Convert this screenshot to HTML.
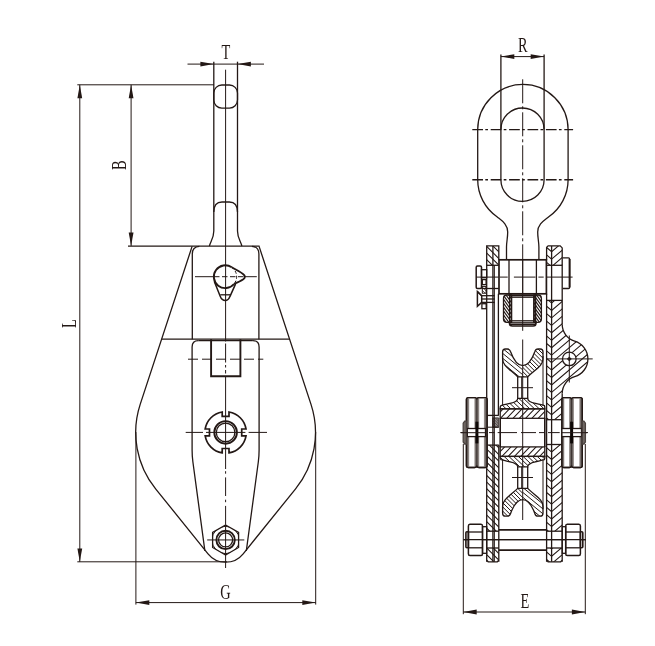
<!DOCTYPE html>
<html><head><meta charset="utf-8"><title>Snatch block drawing</title>
<style>
html,body{margin:0;padding:0;background:#fff;}
svg{display:block;font-family:"Liberation Serif",serif;}
svg{will-change:transform;transform:translateZ(0);}
</style></head><body>
<svg width="655" height="646" viewBox="0 0 655 646">
<defs>
<clipPath id="cL"><rect x="480" y="330" width="42.7" height="200"/></clipPath>
<clipPath id="cR"><rect x="522.7" y="330" width="42.7" height="200"/></clipPath>
<clipPath id="h1"><path d="M486.7,245.9 h12.100000000000023 v19.4 h-12.100000000000023 Z" clip-rule="nonzero"/></clipPath>
<clipPath id="h2"><path d="M486.7,445.1 h12.100000000000023 v86.1 h-12.100000000000023 Z" clip-rule="nonzero"/></clipPath>
<clipPath id="h3"><path d="M486.7,548 h12.100000000000023 v13.8 h-12.100000000000023 Z" clip-rule="nonzero"/></clipPath>
<clipPath id="h4"><path d="M492.8,417.9 h5.5 v9.3 h-5.5 Z" clip-rule="nonzero"/></clipPath>
<clipPath id="h5"><path d="M546.6,245.9 h5.0 v19.4 h-5.0 Z" clip-rule="nonzero"/></clipPath>
<clipPath id="h6"><path d="M551.6,245.9 L560.2,245.9 L562.2,248 L562.2,265.3 L551.6,265.3 Z" clip-rule="nonzero"/></clipPath>
<clipPath id="h7"><path d="M546.6,300.4 h5.0 v119.3 h-5.0 Z" clip-rule="nonzero"/></clipPath>
<clipPath id="h8"><path d="M546.6,444.5 h5.0 v86.7 h-5.0 Z" clip-rule="nonzero"/></clipPath>
<clipPath id="h9"><path d="M546.6,548 h5.0 v13.8 h-5.0 Z" clip-rule="nonzero"/></clipPath>
<clipPath id="h10"><path d="M551.6,300.4 L562.2,300.4 L562.2,324.33 A17.5,17.5 0 0 0 574.66,341.09 A18.6,18.6 0 0 1 574.66,376.71 A17.5,17.5 0 0 0 562.2,393.47 L562.2,419.7 L551.6,419.7 Z M576.0999999999999,358.9 A6.8,6.8 0 1 0 562.5,358.9 A6.8,6.8 0 1 0 576.0999999999999,358.9 Z" clip-rule="evenodd"/></clipPath>
<clipPath id="h11"><path d="M551.6,444.5 h10.600000000000023 v86.7 h-10.600000000000023 Z" clip-rule="nonzero"/></clipPath>
<clipPath id="h12"><path d="M551.6,548 h10.600000000000023 v13.8 h-10.600000000000023 Z" clip-rule="nonzero"/></clipPath>
<clipPath id="h13"><path d="M482.3,286.4 h3.8 v6.8 h-3.8 Z" clip-rule="nonzero"/></clipPath>
<clipPath id="h14"><path d="M503.5,298.5 Q503.5,295 507,295 L511.4,295 L511.4,322.4 L507,322.4 Q503.5,322.4 503.5,319 Z" clip-rule="nonzero"/></clipPath>
<clipPath id="h15"><path d="M541.4,298.5 Q541.4,295 537.9,295 L534.0,295 L534.0,322.4 L537.9,322.4 Q541.4,322.4 541.4,319 Z" clip-rule="nonzero"/></clipPath>
<clipPath id="h16"><path d="M502.6,352 Q502.6,349 505.4,349 L507.4,349 Q509.8,349 510.5,351.5 C512.5,357 517,365.6 522.7,365.6 C528.4,365.6 532.9,357 534.9,351.5 Q535.6,349 538,349 L540.2,349 Q543,349 543,352 L543,359 C543,366 535,369.5 527.7,376.8 L517.7,376.8 C510.4,369.5 502.6,366 502.6,359 Z" clip-rule="nonzero"/></clipPath>
<clipPath id="h17"><path d="M502.6,352 Q502.6,349 505.4,349 L507.4,349 Q509.8,349 510.5,351.5 C512.5,357 517,365.6 522.7,365.6 C528.4,365.6 532.9,357 534.9,351.5 Q535.6,349 538,349 L540.2,349 Q543,349 543,352 L543,359 C543,366 535,369.5 527.7,376.8 L517.7,376.8 C510.4,369.5 502.6,366 502.6,359 Z" clip-rule="nonzero"/></clipPath>
<clipPath id="h18"><path d="M517.7,398.4 C517.7,400.6 515,402.3 510.1,403.4 C507,404.1 503,405 501,405.6 L500.2,407 L500.2,408.8 L544.8,408.8 L544.8,407 L544.4,405.6 C542.4,405 538.4,404.1 535.3,403.4 C530.4,402.3 527.7,400.6 527.7,398.4 Z" clip-rule="nonzero"/></clipPath>
<clipPath id="h19"><path d="M500.2,408.8 h44.6 v9.5 h-44.6 Z" clip-rule="nonzero"/></clipPath>
<clipPath id="h20"><path d="M502.6,513.2 Q502.6,516.2 505.4,516.2 L507.4,516.2 Q509.8,516.2 510.5,513.7 C512.5,508.2 517,499.6 522.7,499.6 C528.4,499.6 532.9,508.2 534.9,513.7 Q535.6,516.2 538,516.2 L540.2,516.2 Q543,516.2 543,513.2 L543,506.2 C543,499.2 535,495.7 527.7,488.4 L517.7,488.4 C510.4,495.7 502.6,499.2 502.6,506.2 Z" clip-rule="nonzero"/></clipPath>
<clipPath id="h21"><path d="M502.6,513.2 Q502.6,516.2 505.4,516.2 L507.4,516.2 Q509.8,516.2 510.5,513.7 C512.5,508.2 517,499.6 522.7,499.6 C528.4,499.6 532.9,508.2 534.9,513.7 Q535.6,516.2 538,516.2 L540.2,516.2 Q543,516.2 543,513.2 L543,506.2 C543,499.2 535,495.7 527.7,488.4 L517.7,488.4 C510.4,495.7 502.6,499.2 502.6,506.2 Z" clip-rule="nonzero"/></clipPath>
<clipPath id="h22"><path d="M517.7,466.8 C517.7,464.6 515,462.9 510.1,461.8 C507,461.1 503,460.2 501,459.6 L500.2,458.2 L500.2,456.4 L544.8,456.4 L544.8,458.2 L544.4,459.6 C542.4,460.2 538.4,461.1 535.3,461.8 C530.4,462.9 527.7,464.6 527.7,466.8 Z" clip-rule="nonzero"/></clipPath>
<clipPath id="h23"><path d="M500.2,446.9 h44.6 v9.5 h-44.6 Z" clip-rule="nonzero"/></clipPath>
<linearGradient id="gL" x1="0" x2="1" y1="0" y2="0"><stop offset="0" stop-color="#3e3633"/><stop offset="1" stop-color="#a39c99"/></linearGradient>
<linearGradient id="gR" x1="0" x2="1" y1="0" y2="0"><stop offset="0" stop-color="#a39c99"/><stop offset="1" stop-color="#3e3633"/></linearGradient>
<linearGradient id="gM" x1="0" x2="1" y1="0" y2="0"><stop offset="0" stop-color="#b0aaa7"/><stop offset="0.5" stop-color="#3e3633"/><stop offset="1" stop-color="#b0aaa7"/></linearGradient>
</defs>
<rect width="655" height="646" fill="#fff"/>
<line x1="225.6" y1="69.7" x2="225.6" y2="341.5" stroke="#231815" stroke-width="1.0" />
<line x1="225.6" y1="343.5" x2="225.6" y2="373.5" stroke="#231815" stroke-width="1.0" stroke-dasharray="19 2.5 2.5 2.5 6 10" />
<line x1="225.6" y1="377" x2="225.6" y2="469" stroke="#231815" stroke-width="1.0" />
<line x1="225.6" y1="471.2" x2="225.6" y2="524.5" stroke="#231815" stroke-width="1.0" stroke-dasharray="2.5 3.7 18.6 3.7" />
<line x1="225.6" y1="524.5" x2="225.6" y2="568" stroke="#231815" stroke-width="1.0" />
<line x1="187.5" y1="64.1" x2="264" y2="64.1" stroke="#231815" stroke-width="1.0" />
<polygon points="213.8,64.1 200.4,66.5 200.4,61.699999999999996" fill="#231815"/>
<polygon points="237.5,64.1 250.9,61.699999999999996 250.9,66.5" fill="#231815"/>
<text transform="translate(225.8,59.3) scale(0.72,1)" font-size="20" text-anchor="middle" fill="#231815">T</text>
<line x1="213.8" y1="61.7" x2="213.8" y2="231" stroke="#231815" stroke-width="1.3" />
<line x1="237.5" y1="61.7" x2="237.5" y2="231" stroke="#231815" stroke-width="1.3" />
<rect x="213.8" y="85" width="23.7" height="23.1" rx="8" stroke="#231815" stroke-width="1.3" fill="none"/>
<path d="M213.8,212 C213.8,205 217,202 222,202 L229.3,202 C234.3,202 237.5,205 237.5,212" stroke="#231815" stroke-width="1.3" fill="none" />
<path d="M213.8,231 C213.8,238 210.8,241 209.4,246" stroke="#231815" stroke-width="1.3" fill="none" />
<path d="M237.5,231 C237.5,238 240.5,241 241.9,246" stroke="#231815" stroke-width="1.3" fill="none" />
<line x1="77.3" y1="84.8" x2="214" y2="84.8" stroke="#231815" stroke-width="1.0" />
<line x1="79.8" y1="84.8" x2="79.8" y2="561.8" stroke="#231815" stroke-width="1.0" />
<polygon points="79.8,84.8 82.2,98.2 77.39999999999999,98.2" fill="#231815"/>
<polygon points="79.8,561.8 77.39999999999999,548.4 82.2,548.4" fill="#231815"/>
<line x1="77.3" y1="561.8" x2="227" y2="561.8" stroke="#231815" stroke-width="1.0" />
<text transform="translate(75.6,323.5) rotate(-90) scale(0.72,1)" font-size="20" text-anchor="middle" fill="#231815">L</text>
<line x1="131.1" y1="84.8" x2="131.1" y2="245.9" stroke="#231815" stroke-width="1.0" />
<polygon points="131.1,84.8 133.5,98.2 128.7,98.2" fill="#231815"/>
<polygon points="131.1,245.9 128.7,232.5 133.5,232.5" fill="#231815"/>
<line x1="128" y1="246.1" x2="259.6" y2="246.1" stroke="#231815" stroke-width="1.3" />
<text transform="translate(126.1,165.3) rotate(-90) scale(0.72,1)" font-size="20" text-anchor="middle" fill="#231815">B</text>
<line x1="135.9" y1="432" x2="135.9" y2="604.6" stroke="#231815" stroke-width="1.0" />
<line x1="315.7" y1="432" x2="315.7" y2="604.6" stroke="#231815" stroke-width="1.0" />
<line x1="135.9" y1="602.6" x2="315.7" y2="602.6" stroke="#231815" stroke-width="1.0" />
<polygon points="135.9,602.6 149.3,600.2 149.3,605.0" fill="#231815"/>
<polygon points="315.7,602.6 302.3,605.0 302.3,600.2" fill="#231815"/>
<text transform="translate(225.5,598.6) scale(0.72,1)" font-size="20" text-anchor="middle" fill="#231815">G</text>
<path d="M192.10,246.40 L140.19,404.33 A89.9,89.9 0 0 0 155.62,488.84 L208.01,553.79 A22.6,22.6 0 0 0 243.19,553.79 L295.58,488.84 A89.9,89.9 0 0 0 311.01,404.33 L259.10,246.40" stroke="#231815" stroke-width="1.3" fill="none" />
<line x1="161.6" y1="339.2" x2="289.6" y2="339.2" stroke="#231815" stroke-width="1.3" />
<path d="M192.3,339.2 L192.3,254 Q192.3,246.6 199.3,246.3 M251.9,246.3 Q258.9,246.6 258.9,254 L258.9,339.2" stroke="#231815" stroke-width="1.3" fill="none" />
<path d="M198.3,340.6 Q192.10000000000002,340.6 192.10000000000002,347 L192.10000000000002,450 Q192.10000000000002,456 192.9,462 L204.9,551" stroke="#231815" stroke-width="1.3" fill="none" />
<path d="M252.9,340.6 Q259.1,340.6 259.1,347 L259.1,450 Q259.1,456 258.3,462 L246.3,551" stroke="#231815" stroke-width="1.3" fill="none" />
<line x1="198.3" y1="340.6" x2="252.9" y2="340.6" stroke="#231815" stroke-width="1.3" />
<path d="M211.1,339.2 L211.1,376.2 L240.4,376.2 L240.4,339.2" stroke="#231815" stroke-width="1.9" fill="none" />
<line x1="188" y1="359.2" x2="263.3" y2="359.2" stroke="#231815" stroke-width="1.0" stroke-dasharray="10 4" />
<line x1="195" y1="276.7" x2="213.5" y2="276.7" stroke="#231815" stroke-width="1.0" />
<line x1="245" y1="276.7" x2="256.8" y2="276.7" stroke="#231815" stroke-width="1.0" />
<line x1="214" y1="276.7" x2="244" y2="276.7" stroke="#231815" stroke-width="1.0" stroke-dasharray="5.5 2.5" />
<path d="M234.0,284.0 A11.4,11.4 0 1 1 231.7,267.3" stroke="#231815" stroke-width="1.9" fill="none" />
<path d="M231.7,267.3 C236,269.5 241,272.5 243.3,274.3 Q244.9,275.6 244.9,276.8 Q244.9,278.4 243,279.6 C240.5,281.2 237.5,282.5 234.0,284.0" stroke="#231815" stroke-width="1.7999999999999998" fill="none" />
<path d="M214.3,281.5 L220.2,296.3 C221.3,299.2 223,300.6 225.3,300.6 C227.6,300.6 228.9,299.2 229.9,296.6 L235.6,283.9" stroke="#231815" stroke-width="1.5" fill="none" />
<line x1="220.3" y1="294.8" x2="230.7" y2="294.8" stroke="#231815" stroke-width="1.3" />
<path d="M231.7,267.3 A11.4,11.4 0 0 1 234.0,284.0" stroke="#231815" stroke-width="1.0" fill="none" stroke-dasharray="3 2"/>
<line x1="185.7" y1="432.4" x2="203" y2="432.4" stroke="#231815" stroke-width="1.0" />
<line x1="248.6" y1="432.4" x2="267" y2="432.4" stroke="#231815" stroke-width="1.0" />
<line x1="206" y1="432.4" x2="245.4" y2="432.4" stroke="#231815" stroke-width="1.0" />
<path d="M246.02,435.80 A20.7,20.7 0 0 1 229.00,452.82 L229.00,448.52 L222.20,448.52 L222.20,452.82 A20.7,20.7 0 0 1 205.18,435.80 L209.48,435.80 L209.48,429.00 L205.18,429.00 A20.7,20.7 0 0 1 222.20,411.98 L222.20,416.28 L229.00,416.28 L229.00,411.98 A20.7,20.7 0 0 1 246.02,429.00 L241.72,429.00 L241.72,435.80 L246.02,435.80 Z" stroke="#231815" stroke-width="1.7" fill="none" />
<circle cx="225.6" cy="432.4" r="11.3" stroke="#231815" stroke-width="1.9" fill="none"/>
<circle cx="225.6" cy="432.4" r="9.3" stroke="#231815" stroke-width="1.3" fill="none"/>
<polygon points="225.60,524.95 238.59,532.45 238.59,547.45 225.60,554.95 212.61,547.45 212.61,532.45" fill="none" stroke="#231815" stroke-width="1.3"/>
<clipPath id="hexc"><polygon points="225.60,524.95 238.59,532.45 238.59,547.45 225.60,554.95 212.61,547.45 212.61,532.45"/></clipPath>
<circle cx="225.6" cy="539.95" r="13.7" stroke="#231815" stroke-width="1.0" fill="none" clip-path="url(#hexc)"/>
<circle cx="225.6" cy="539.95" r="9.2" stroke="#231815" stroke-width="1.9" fill="none"/>
<circle cx="225.6" cy="539.95" r="7.0" stroke="#231815" stroke-width="1.3" fill="none"/>
<line x1="207.2" y1="539.95" x2="244.3" y2="539.95" stroke="#231815" stroke-width="1.0" />
<line x1="500.9" y1="54.6" x2="500.9" y2="129.6" stroke="#231815" stroke-width="1.3" />
<line x1="544.1" y1="54.6" x2="544.1" y2="129.6" stroke="#231815" stroke-width="1.3" />
<line x1="500.9" y1="56.6" x2="544.1" y2="56.6" stroke="#231815" stroke-width="1.0" />
<polygon points="500.9,56.6 514.3,54.2 514.3,59.0" fill="#231815"/>
<polygon points="544.1,56.6 530.7,59.0 530.7,54.2" fill="#231815"/>
<text transform="translate(522.8,51.8) scale(0.72,1)" font-size="20" text-anchor="middle" fill="#231815">R</text>
<line x1="522.7" y1="79.3" x2="522.7" y2="259.8" stroke="#231815" stroke-width="1.0" stroke-dasharray="24 3 3 3" />
<line x1="522.7" y1="293.8" x2="522.7" y2="330.8" stroke="#231815" stroke-width="1.0" />
<line x1="522.7" y1="339.5" x2="522.7" y2="378" stroke="#231815" stroke-width="1.0" />
<line x1="472.3" y1="129.6" x2="573.1" y2="129.6" stroke="#231815" stroke-width="1.4000000000000001" stroke-dasharray="10.7 2.3 2.7 2.7" />
<line x1="472.3" y1="179.8" x2="573.1" y2="179.8" stroke="#231815" stroke-width="1.4000000000000001" stroke-dasharray="10.7 2.3 2.7 2.7" />
<path d="M500.9,129.6 A21.6,21.6 0 0 1 544.1,129.6 L544.1,179.8 A21.6,21.6 0 0 1 500.9,179.8 Z" stroke="#231815" stroke-width="1.3" fill="none" />
<path d="M506.5,259.8 L506.5,247 C506.6,241 507.7,238 507.7,232 C507.7,224 501.5,220.5 497.0,216.8 A45.2,45.2 0 0 1 477.7,179.8 L477.7,129.6 A45.2,45.2 0 0 1 568.1,129.6 L568.1,179.8 A45.2,45.2 0 0 1 548.8,216.8 C544.3,220.5 537.7,224 537.7,232 C537.7,238 538.8,241 538.9,247 L538.9,259.8" stroke="#231815" stroke-width="1.3" fill="none" />
<path d="M485.7,232.20L499.8,246.30M485.7,238.80L499.8,252.90M485.7,245.40L499.8,259.50M485.7,252.00L499.8,266.10M485.7,258.60L499.8,272.70M485.7,265.20L499.8,279.30" stroke="#231815" stroke-width="1.05" fill="none" clip-path="url(#h1)"/>
<path d="M485.7,434.80L499.8,448.90M485.7,441.40L499.8,455.50M485.7,448.00L499.8,462.10M485.7,454.60L499.8,468.70M485.7,461.20L499.8,475.30M485.7,467.80L499.8,481.90M485.7,474.40L499.8,488.50M485.7,481.00L499.8,495.10M485.7,487.60L499.8,501.70M485.7,494.20L499.8,508.30M485.7,500.80L499.8,514.90M485.7,507.40L499.8,521.50M485.7,514.00L499.8,528.10M485.7,520.60L499.8,534.70M485.7,527.20L499.8,541.30" stroke="#231815" stroke-width="1.05" fill="none" clip-path="url(#h2)"/>
<path d="M485.7,533.80L499.8,547.90M485.7,540.40L499.8,554.50M485.7,547.00L499.8,561.10M485.7,553.60L499.8,567.70M485.7,560.20L499.8,574.30" stroke="#231815" stroke-width="1.05" fill="none" clip-path="url(#h3)"/>
<path d="M486.7,561.8 L486.7,245.9 L498.8,245.9 L498.8,259.8" stroke="#231815" stroke-width="1.3" fill="none" />
<line x1="492.9" y1="245.9" x2="492.9" y2="561.8" stroke="#231815" stroke-width="1.3" />
<line x1="494.3" y1="265.3" x2="494.3" y2="561.8" stroke="#231815" stroke-width="1.1" />
<line x1="486.7" y1="265.3" x2="498.8" y2="265.3" stroke="#231815" stroke-width="1.3" />
<line x1="498.4" y1="293.8" x2="498.4" y2="415.4" stroke="#231815" stroke-width="1.3" />
<line x1="498.8" y1="445.1" x2="498.8" y2="561.8" stroke="#231815" stroke-width="1.3" />
<path d="M486.7,560.3 L488.2,561.8 L497.3,561.8 L498.8,560.3" stroke="#231815" stroke-width="1.3" fill="none" />
<line x1="486.7" y1="445.1" x2="498.8" y2="445.1" stroke="#231815" stroke-width="1.3" />
<line x1="486.7" y1="415.4" x2="498.8" y2="415.4" stroke="#231815" stroke-width="1.3" />
<path d="M491.8,410.20L499.3,417.70M491.8,411.80L499.3,419.30M491.8,413.40L499.3,420.90M491.8,415.00L499.3,422.50M491.8,416.60L499.3,424.10M491.8,418.20L499.3,425.70M491.8,419.80L499.3,427.30M491.8,421.40L499.3,428.90M491.8,423.00L499.3,430.50M491.8,424.60L499.3,432.10M491.8,426.20L499.3,433.70M491.8,427.80L499.3,435.30" stroke="#231815" stroke-width="0.6" fill="none" clip-path="url(#h4)"/>
<rect x="492.8" y="417.9" width="5.5" height="9.3" fill="#231815" fill-opacity="0.35"/>
<rect x="492.8" y="417.9" width="5.5" height="9.3" rx="0" stroke="#231815" stroke-width="0.8" fill="none"/>
<line x1="487.8" y1="427.2" x2="498.8" y2="427.2" stroke="#231815" stroke-width="1.0" />
<path d="M545.6,239.15L552.6,245.10M545.6,246.60L552.6,252.55M545.6,254.05L552.6,260.00M545.6,261.50L552.6,267.45" stroke="#231815" stroke-width="1.05" fill="none" clip-path="url(#h5)"/>
<path d="M550.6,245.10L563.2,234.39M550.6,252.55L563.2,241.84M550.6,260.00L563.2,249.29M550.6,267.45L563.2,256.74M550.6,274.90L563.2,264.19" stroke="#231815" stroke-width="1.05" fill="none" clip-path="url(#h6)"/>
<path d="M545.6,297.90L552.6,303.85M545.6,305.35L552.6,311.30M545.6,312.80L552.6,318.75M545.6,320.25L552.6,326.20M545.6,327.70L552.6,333.65M545.6,335.15L552.6,341.10M545.6,342.60L552.6,348.55M545.6,350.05L552.6,356.00M545.6,357.50L552.6,363.45M545.6,364.95L552.6,370.90M545.6,372.40L552.6,378.35M545.6,379.85L552.6,385.80M545.6,387.30L552.6,393.25M545.6,394.75L552.6,400.70M545.6,402.20L552.6,408.15M545.6,409.65L552.6,415.60M545.6,417.10L552.6,423.05" stroke="#231815" stroke-width="1.05" fill="none" clip-path="url(#h7)"/>
<path d="M545.6,439.45L552.6,445.40M545.6,446.90L552.6,452.85M545.6,454.35L552.6,460.30M545.6,461.80L552.6,467.75M545.6,469.25L552.6,475.20M545.6,476.70L552.6,482.65M545.6,484.15L552.6,490.10M545.6,491.60L552.6,497.55M545.6,499.05L552.6,505.00M545.6,506.50L552.6,512.45M545.6,513.95L552.6,519.90M545.6,521.40L552.6,527.35M545.6,528.85L552.6,534.80" stroke="#231815" stroke-width="1.05" fill="none" clip-path="url(#h8)"/>
<path d="M545.6,543.75L552.6,549.70M545.6,551.20L552.6,557.15M545.6,558.65L552.6,564.60" stroke="#231815" stroke-width="1.05" fill="none" clip-path="url(#h9)"/>
<path d="M543.7,302.26L594.3,259.29M543.7,309.71L594.3,266.74M543.7,317.16L594.3,274.19M543.7,324.61L594.3,281.64M543.7,332.06L594.3,289.09M543.7,339.51L594.3,296.54M543.7,346.96L594.3,303.99M543.7,354.41L594.3,311.44M543.7,361.86L594.3,318.89M543.7,369.31L594.3,326.34M543.7,376.76L594.3,333.79M543.7,384.21L594.3,341.24M543.7,391.66L594.3,348.69M543.7,399.11L594.3,356.14M543.7,406.56L594.3,363.59M543.7,414.01L594.3,371.04M543.7,421.46L594.3,378.49M543.7,428.91L594.3,385.94M543.7,436.36L594.3,393.39M543.7,443.81L594.3,400.84M543.7,451.26L594.3,408.29M543.7,458.71L594.3,415.74" stroke="#231815" stroke-width="1.05" fill="none" clip-path="url(#h10)"/>
<path d="M550.6,445.40L563.2,434.69M550.6,452.85L563.2,442.14M550.6,460.30L563.2,449.59M550.6,467.75L563.2,457.04M550.6,475.20L563.2,464.49M550.6,482.65L563.2,471.94M550.6,490.10L563.2,479.39M550.6,497.55L563.2,486.84M550.6,505.00L563.2,494.29M550.6,512.45L563.2,501.74M550.6,519.90L563.2,509.19M550.6,527.35L563.2,516.64M550.6,534.80L563.2,524.09M550.6,542.25L563.2,531.54" stroke="#231815" stroke-width="1.05" fill="none" clip-path="url(#h11)"/>
<path d="M550.6,549.70L563.2,538.99M550.6,557.15L563.2,546.44M550.6,564.60L563.2,553.89M550.6,572.05L563.2,561.34" stroke="#231815" stroke-width="1.05" fill="none" clip-path="url(#h12)"/>
<path d="M546.6,259.8 L546.6,247.4 L548.1,245.9 L560.2,245.9 L562.2,247.9 L562.2,324.33" stroke="#231815" stroke-width="1.3" fill="none" />
<path d="M562.2,324.33 A17.5,17.5 0 0 0 574.66,341.09 A18.6,18.6 0 0 1 574.66,376.71 A17.5,17.5 0 0 0 562.2,393.47" stroke="#231815" stroke-width="1.3" fill="none" />
<line x1="562.2" y1="393.47" x2="562.2" y2="561.8" stroke="#231815" stroke-width="1.3" />
<line x1="546.6" y1="293.8" x2="546.6" y2="561.8" stroke="#231815" stroke-width="1.3" />
<line x1="551.6" y1="245.9" x2="551.6" y2="561.8" stroke="#231815" stroke-width="1.3" />
<path d="M546.6,560.3 L548.1,561.8 L560.7,561.8 L562.2,560.3" stroke="#231815" stroke-width="1.3" fill="none" />
<line x1="546.6" y1="265.3" x2="562.2" y2="265.3" stroke="#231815" stroke-width="1.3" />
<line x1="546.6" y1="300.4" x2="562.2" y2="300.4" stroke="#231815" stroke-width="1.3" />
<line x1="546.6" y1="419.7" x2="562.2" y2="419.7" stroke="#231815" stroke-width="1.3" />
<line x1="546.6" y1="444.5" x2="562.2" y2="444.5" stroke="#231815" stroke-width="1.3" />
<circle cx="569.3" cy="358.9" r="6.8" stroke="#231815" stroke-width="1.3" fill="#fff"/>
<line x1="546" y1="358.9" x2="592.7" y2="358.9" stroke="#231815" stroke-width="1.0" />
<line x1="569.3" y1="335.5" x2="569.3" y2="382.5" stroke="#231815" stroke-width="1.0" />
<line x1="567.3" y1="358.9" x2="571.3" y2="358.9" stroke="#231815" stroke-width="1.9" />
<line x1="569.3" y1="356.9" x2="569.3" y2="360.9" stroke="#231815" stroke-width="1.9" />
<rect x="499" y="259.8" width="47.4" height="34" rx="0" stroke="#231815" stroke-width="1.7" fill="none"/>
<line x1="509" y1="259.8" x2="509" y2="293.8" stroke="#231815" stroke-width="1.3" />
<line x1="536.4" y1="259.8" x2="536.4" y2="293.8" stroke="#231815" stroke-width="1.3" />
<line x1="522.7" y1="259.8" x2="522.7" y2="293.8" stroke="#231815" stroke-width="1.3" />
<line x1="476" y1="277.1" x2="498.6" y2="277.1" stroke="#231815" stroke-width="1.0" />
<line x1="499.8" y1="277.1" x2="507.7" y2="277.1" stroke="#231815" stroke-width="1.0" />
<line x1="513.9" y1="277.1" x2="535.5" y2="277.1" stroke="#231815" stroke-width="1.0" />
<line x1="538.4" y1="277.1" x2="543.7" y2="277.1" stroke="#231815" stroke-width="1.0" />
<line x1="546.6" y1="277.1" x2="572.6" y2="277.1" stroke="#231815" stroke-width="1.0" />
<line x1="481.5" y1="288.5" x2="499" y2="288.5" stroke="#231815" stroke-width="1.3" />
<path d="M562.7,257.9 L568.5,257.9 Q569.6,257.9 569.6,259 L569.6,287.4 Q569.6,288.5 568.5,288.5 L562.7,288.5" stroke="#231815" stroke-width="1.3" fill="none" />
<line x1="569.6" y1="259" x2="569.6" y2="287.4" stroke="#231815" stroke-width="1.9" />
<rect x="476.2" y="266" width="5.3" height="22.4" rx="1.2" stroke="#231815" stroke-width="1.5" fill="none"/>
<rect x="481.5" y="269.7" width="5.2" height="8" rx="0" stroke="#231815" stroke-width="1.3" fill="none"/>
<rect x="482.3" y="279.6" width="3.8" height="5" rx="0" stroke="#231815" stroke-width="1.3" fill="none"/>
<path d="M481.3,279.70L487.1,285.50M481.3,282.90L487.1,288.70M481.3,286.10L487.1,291.90M481.3,289.30L487.1,295.10M481.3,292.50L487.1,298.30" stroke="#231815" stroke-width="0.7" fill="none" clip-path="url(#h13)"/>
<rect x="482.3" y="286.4" width="3.8" height="6.8" rx="0" stroke="#231815" stroke-width="1.0" fill="none"/>
<path d="M477.4,291.5 L477.4,306.2 L481.7,302.3 L481.7,295.7 Z" stroke="#231815" stroke-width="1.5" fill="none" />
<line x1="477.4" y1="291.5" x2="481.7" y2="295.7" stroke="#231815" stroke-width="1.3" />
<line x1="481.7" y1="295.7" x2="494.7" y2="295.7" stroke="#231815" stroke-width="1.3" />
<line x1="481.7" y1="299" x2="494.7" y2="299" stroke="#231815" stroke-width="1.3" />
<line x1="481.7" y1="302.4" x2="494.7" y2="302.4" stroke="#231815" stroke-width="1.3" />
<rect x="481.9" y="303.7" width="4.3" height="5" rx="0" stroke="#231815" stroke-width="1.3" fill="none"/>
<path d="M502.5,282.30L512.4,296.16M502.5,286.20L512.4,300.06M502.5,290.10L512.4,303.96M502.5,294.00L512.4,307.86M502.5,297.90L512.4,311.76M502.5,301.80L512.4,315.66M502.5,305.70L512.4,319.56M502.5,309.60L512.4,323.46M502.5,313.50L512.4,327.36M502.5,317.40L512.4,331.26M502.5,321.30L512.4,335.16" stroke="#231815" stroke-width="1.15" fill="none" clip-path="url(#h14)"/>
<path d="M533.0,282.10L542.4,295.26M533.0,286.00L542.4,299.16M533.0,289.90L542.4,303.06M533.0,293.80L542.4,306.96M533.0,297.70L542.4,310.86M533.0,301.60L542.4,314.76M533.0,305.50L542.4,318.66M533.0,309.40L542.4,322.56M533.0,313.30L542.4,326.46M533.0,317.20L542.4,330.36M533.0,321.10L542.4,334.26" stroke="#231815" stroke-width="1.15" fill="none" clip-path="url(#h15)"/>
<path d="M503.5,298.5 Q503.5,295 507,295 L511.4,295 L511.4,322.4 L507,322.4 Q503.5,322.4 503.5,319 Z" stroke="#231815" stroke-width="1.3" fill="none" />
<path d="M541.4,298.5 Q541.4,295 537.9,295 L534.0,295 L534.0,322.4 L537.9,322.4 Q541.4,322.4 541.4,319 Z" stroke="#231815" stroke-width="1.3" fill="none" />
<line x1="509.3" y1="295.3" x2="536.6" y2="295.3" stroke="#231815" stroke-width="1.9" />
<line x1="510.5" y1="297.2" x2="535" y2="297.2" stroke="#231815" stroke-width="1.3" />
<line x1="509.6" y1="293.8" x2="509.6" y2="324" stroke="#231815" stroke-width="1.3" />
<line x1="535.6" y1="293.8" x2="535.6" y2="324" stroke="#231815" stroke-width="1.3" />
<line x1="511.6" y1="295" x2="511.6" y2="322.4" stroke="#231815" stroke-width="1.3" />
<line x1="533.8" y1="295" x2="533.8" y2="322.4" stroke="#231815" stroke-width="1.3" />
<line x1="509.6" y1="320.8" x2="535.6" y2="320.8" stroke="#231815" stroke-width="1.3" />
<line x1="509.6" y1="322.8" x2="535.6" y2="322.8" stroke="#231815" stroke-width="1.3" />
<line x1="509.6" y1="324.4" x2="535.6" y2="324.4" stroke="#231815" stroke-width="1.3" />
<path d="M509.4,323 Q509.4,326.1 512.4,326.1 L533.2,326.1 Q536.0,326.1 536.0,323" stroke="#231815" stroke-width="1.5" fill="none" />
<g clip-path="url(#cL)"><path d="M501.6,313.31L544.0,348.08M501.6,318.21L544.0,352.98M501.6,323.11L544.0,357.88M501.6,328.01L544.0,362.78M501.6,332.91L544.0,367.68M501.6,337.81L544.0,372.58M501.6,342.71L544.0,377.48M501.6,347.61L544.0,382.38M501.6,352.51L544.0,387.28M501.6,357.41L544.0,392.18M501.6,362.31L544.0,397.08M501.6,367.21L544.0,401.98M501.6,372.11L544.0,406.88M501.6,377.01L544.0,411.78" stroke="#231815" stroke-width="1.0" fill="none" clip-path="url(#h16)"/></g>
<g clip-path="url(#cR)"><path d="M501.6,308.40L544.0,350.80M501.6,312.60L544.0,355.00M501.6,316.80L544.0,359.20M501.6,321.00L544.0,363.40M501.6,325.20L544.0,367.60M501.6,329.40L544.0,371.80M501.6,333.60L544.0,376.00M501.6,337.80L544.0,380.20M501.6,342.00L544.0,384.40M501.6,346.20L544.0,388.60M501.6,350.40L544.0,392.80M501.6,354.60L544.0,397.00M501.6,358.80L544.0,401.20M501.6,363.00L544.0,405.40M501.6,367.20L544.0,409.60M501.6,371.40L544.0,413.80M501.6,375.60L544.0,418.00" stroke="#231815" stroke-width="1.0" fill="none" clip-path="url(#h17)"/></g>
<path d="M502.6,352 Q502.6,349 505.4,349 L507.4,349 Q509.8,349 510.5,351.5 C512.5,357 517,365.6 522.7,365.6 C528.4,365.6 532.9,357 534.9,351.5 Q535.6,349 538,349 L540.2,349 Q543,349 543,352 L543,359 C543,366 535,369.5 527.7,376.8 L517.7,376.8 C510.4,369.5 502.6,366 502.6,359 Z" stroke="#231815" stroke-width="1.3" fill="none" />
<path d="M499.2,357.24L545.8,401.51M499.2,361.74L545.8,406.01M499.2,366.24L545.8,410.51M499.2,370.74L545.8,415.01M499.2,375.24L545.8,419.51M499.2,379.74L545.8,424.01M499.2,384.24L545.8,428.51M499.2,388.74L545.8,433.01M499.2,393.24L545.8,437.51M499.2,397.74L545.8,442.01M499.2,402.24L545.8,446.51M499.2,406.74L545.8,451.01" stroke="#231815" stroke-width="1.0" fill="none" clip-path="url(#h18)"/>
<path d="M517.7,398.4 C517.7,400.6 515,402.3 510.1,403.4 C507,404.1 503,405 501,405.6 L500.2,407 L500.2,408.8 L544.8,408.8 L544.8,407 L544.4,405.6 C542.4,405 538.4,404.1 535.3,403.4 C530.4,402.3 527.7,400.6 527.7,398.4 Z" stroke="#231815" stroke-width="1.3" fill="none" />
<path d="M499.2,413.04L545.8,364.11M499.2,419.64L545.8,370.71M499.2,426.24L545.8,377.31M499.2,432.84L545.8,383.91M499.2,439.44L545.8,390.51M499.2,446.04L545.8,397.11M499.2,452.64L545.8,403.71M499.2,459.24L545.8,410.31M499.2,465.84L545.8,416.91" stroke="#231815" stroke-width="1.05" fill="none" clip-path="url(#h19)"/>
<rect x="500.2" y="408.8" width="44.6" height="9.5" rx="0" stroke="#231815" stroke-width="1.3" fill="none"/>
<line x1="517.7" y1="376.8" x2="517.7" y2="398.4" stroke="#231815" stroke-width="1.3" />
<line x1="527.7" y1="376.8" x2="527.7" y2="398.4" stroke="#231815" stroke-width="1.3" />
<line x1="521.7" y1="376.8" x2="521.7" y2="398.4" stroke="#231815" stroke-width="1.0" />
<line x1="512" y1="387.7" x2="533" y2="387.7" stroke="#231815" stroke-width="1.0" />
<line x1="502.6" y1="356" x2="502.6" y2="405.8" stroke="#231815" stroke-width="1.0" />
<line x1="543" y1="356" x2="543" y2="405.8" stroke="#231815" stroke-width="1.0" />
<g clip-path="url(#cL)"><path d="M501.6,447.00L544.0,489.40M501.6,451.20L544.0,493.60M501.6,455.40L544.0,497.80M501.6,459.60L544.0,502.00M501.6,463.80L544.0,506.20M501.6,468.00L544.0,510.40M501.6,472.20L544.0,514.60M501.6,476.40L544.0,518.80M501.6,480.60L544.0,523.00M501.6,484.80L544.0,527.20M501.6,489.00L544.0,531.40M501.6,493.20L544.0,535.60M501.6,497.40L544.0,539.80M501.6,501.60L544.0,544.00M501.6,505.80L544.0,548.20M501.6,510.00L544.0,552.40M501.6,514.20L544.0,556.60" stroke="#231815" stroke-width="1.0" fill="none" clip-path="url(#h20)"/></g>
<g clip-path="url(#cR)"><path d="M501.6,455.41L544.0,490.18M501.6,460.31L544.0,495.08M501.6,465.21L544.0,499.98M501.6,470.11L544.0,504.88M501.6,475.01L544.0,509.78M501.6,479.91L544.0,514.68M501.6,484.81L544.0,519.58M501.6,489.71L544.0,524.48M501.6,494.61L544.0,529.38M501.6,499.51L544.0,534.28M501.6,504.41L544.0,539.18M501.6,509.31L544.0,544.08M501.6,514.21L544.0,548.98" stroke="#231815" stroke-width="1.0" fill="none" clip-path="url(#h21)"/></g>
<path d="M502.6,513.2 Q502.6,516.2 505.4,516.2 L507.4,516.2 Q509.8,516.2 510.5,513.7 C512.5,508.2 517,499.6 522.7,499.6 C528.4,499.6 532.9,508.2 534.9,513.7 Q535.6,516.2 538,516.2 L540.2,516.2 Q543,516.2 543,513.2 L543,506.2 C543,499.2 535,495.7 527.7,488.4 L517.7,488.4 C510.4,495.7 502.6,499.2 502.6,506.2 Z" stroke="#231815" stroke-width="1.3" fill="none" />
<path d="M499.2,411.24L545.8,455.51M499.2,415.74L545.8,460.01M499.2,420.24L545.8,464.51M499.2,424.74L545.8,469.01M499.2,429.24L545.8,473.51M499.2,433.74L545.8,478.01M499.2,438.24L545.8,482.51M499.2,442.74L545.8,487.01M499.2,447.24L545.8,491.51M499.2,451.74L545.8,496.01M499.2,456.24L545.8,500.51M499.2,460.74L545.8,505.01M499.2,465.24L545.8,509.51" stroke="#231815" stroke-width="1.0" fill="none" clip-path="url(#h22)"/>
<path d="M517.7,466.8 C517.7,464.6 515,462.9 510.1,461.8 C507,461.1 503,460.2 501,459.6 L500.2,458.2 L500.2,456.4 L544.8,456.4 L544.8,458.2 L544.4,459.6 C542.4,460.2 538.4,461.1 535.3,461.8 C530.4,462.9 527.7,464.6 527.7,466.8 Z" stroke="#231815" stroke-width="1.3" fill="none" />
<path d="M499.2,446.04L545.8,397.11M499.2,452.64L545.8,403.71M499.2,459.24L545.8,410.31M499.2,465.84L545.8,416.91M499.2,472.44L545.8,423.51M499.2,479.04L545.8,430.11M499.2,485.64L545.8,436.71M499.2,492.24L545.8,443.31M499.2,498.84L545.8,449.91M499.2,505.44L545.8,456.51" stroke="#231815" stroke-width="1.05" fill="none" clip-path="url(#h23)"/>
<rect x="500.2" y="446.9" width="44.6" height="9.5" rx="0" stroke="#231815" stroke-width="1.3" fill="none"/>
<line x1="517.7" y1="488.4" x2="517.7" y2="466.8" stroke="#231815" stroke-width="1.3" />
<line x1="527.7" y1="488.4" x2="527.7" y2="466.8" stroke="#231815" stroke-width="1.3" />
<line x1="521.7" y1="488.4" x2="521.7" y2="466.8" stroke="#231815" stroke-width="1.0" />
<line x1="512" y1="477.5" x2="533" y2="477.5" stroke="#231815" stroke-width="1.0" />
<line x1="502.6" y1="509.2" x2="502.6" y2="459.4" stroke="#231815" stroke-width="1.0" />
<line x1="543" y1="509.2" x2="543" y2="459.4" stroke="#231815" stroke-width="1.0" />
<line x1="522.7" y1="378" x2="522.7" y2="520" stroke="#231815" stroke-width="1.0" />
<line x1="500.2" y1="418.3" x2="500.2" y2="446.9" stroke="#231815" stroke-width="1.5999999999999999" />
<line x1="544.8" y1="418.3" x2="544.8" y2="446.9" stroke="#231815" stroke-width="1.5999999999999999" />
<line x1="460.3" y1="432.6" x2="487" y2="432.6" stroke="#231815" stroke-width="1.0" />
<line x1="489" y1="432.6" x2="494.5" y2="432.6" stroke="#231815" stroke-width="1.0" />
<line x1="497.7" y1="432.6" x2="517" y2="432.6" stroke="#231815" stroke-width="1.0" />
<line x1="521" y1="432.6" x2="536" y2="432.6" stroke="#231815" stroke-width="1.0" />
<line x1="539" y1="432.6" x2="544.7" y2="432.6" stroke="#231815" stroke-width="1.0" />
<line x1="548" y1="432.6" x2="559.7" y2="432.6" stroke="#231815" stroke-width="1.0" />
<line x1="561.9" y1="432.6" x2="588" y2="432.6" stroke="#231815" stroke-width="1.0" />
<path d="M466.4,465.5 L466.4,399.6 Q466.4,397.6 468.4,397.6 L474.40000000000003,397.6 Q476.8,397.6 476.8,399.6 Q476.8,397.6 479.2,397.6 L485.1,397.6 Q487.1,397.6 487.1,399.6 L487.1,465.5 Q487.1,467.5 485.1,467.5 L479.2,467.5 Q476.8,467.5 476.8,465.5 Q476.8,467.5 474.40000000000003,467.5 L468.4,467.5 Q466.4,467.5 466.4,465.5 Z" stroke="#231815" stroke-width="1.3" fill="#fff" />
<rect x="466.4" y="398.4" width="2.8" height="68.3" fill="url(#gL)"/>
<rect x="474.3" y="398.4" width="5.0" height="68.3" fill="url(#gM)"/>
<rect x="483.9" y="398.4" width="3.2" height="68.3" fill="url(#gR)"/>
<path d="M466.4,465.5 L466.4,399.6 Q466.4,397.6 468.4,397.6 L474.40000000000003,397.6 Q476.8,397.6 476.8,399.6 Q476.8,397.6 479.2,397.6 L485.1,397.6 Q487.1,397.6 487.1,399.6 L487.1,465.5 Q487.1,467.5 485.1,467.5 L479.2,467.5 Q476.8,467.5 476.8,465.5 Q476.8,467.5 474.40000000000003,467.5 L468.4,467.5 Q466.4,467.5 466.4,465.5 Z" stroke="#231815" stroke-width="1.3" fill="none" />
<rect x="467.3" y="428.5" width="18.2" height="8.1" rx="0" stroke="#231815" stroke-width="1.3" fill="#fff"/>
<line x1="476.90000000000003" y1="421.7" x2="476.90000000000003" y2="443.4" stroke="#0d0806" stroke-width="3.0" />
<line x1="467.3" y1="432.7" x2="485.5" y2="432.7" stroke="#231815" stroke-width="1.0" />
<path d="M561.9,465.5 L561.9,399.6 Q561.9,397.6 563.9,397.6 L569.1,397.6 Q571.5,397.6 571.5,399.6 Q571.5,397.6 573.9,397.6 L580.3,397.6 Q582.3,397.6 582.3,399.6 L582.3,465.5 Q582.3,467.5 580.3,467.5 L573.9,467.5 Q571.5,467.5 571.5,465.5 Q571.5,467.5 569.1,467.5 L563.9,467.5 Q561.9,467.5 561.9,465.5 Z" stroke="#231815" stroke-width="1.3" fill="#fff" />
<rect x="561.9" y="398.4" width="2.4" height="68.3" fill="url(#gL)"/>
<rect x="569.0" y="398.4" width="5.0" height="68.3" fill="url(#gM)"/>
<rect x="579.3" y="398.4" width="3.0" height="68.3" fill="url(#gR)"/>
<path d="M561.9,465.5 L561.9,399.6 Q561.9,397.6 563.9,397.6 L569.1,397.6 Q571.5,397.6 571.5,399.6 Q571.5,397.6 573.9,397.6 L580.3,397.6 Q582.3,397.6 582.3,399.6 L582.3,465.5 Q582.3,467.5 580.3,467.5 L573.9,467.5 Q571.5,467.5 571.5,465.5 Q571.5,467.5 569.1,467.5 L563.9,467.5 Q561.9,467.5 561.9,465.5 Z" stroke="#231815" stroke-width="1.3" fill="none" />
<rect x="561.9" y="428.5" width="19.6" height="8.1" rx="0" stroke="#231815" stroke-width="1.3" fill="#fff"/>
<line x1="571.6" y1="421.7" x2="571.6" y2="443.4" stroke="#0d0806" stroke-width="3.0" />
<line x1="561.9" y1="432.7" x2="581.5" y2="432.7" stroke="#231815" stroke-width="1.0" />
<path d="M466.4,421.1 L464.7,421.1 L463.2,423.1 L463.2,442 L464.7,444 L466.4,444 Z" stroke="#4a423f" stroke-width="1.3" fill="#6f6763" />
<path d="M582.3,421.1 L583.9,421.1 L585.4,423.1 L585.4,442 L583.9,444 L582.3,444 Z" stroke="#4a423f" stroke-width="1.3" fill="#6f6763" />
<line x1="461" y1="432.7" x2="467" y2="432.7" stroke="#231815" stroke-width="1.0" />
<line x1="581" y1="432.7" x2="587" y2="432.7" stroke="#231815" stroke-width="1.0" />
<line x1="463.3" y1="444" x2="463.3" y2="614.2" stroke="#231815" stroke-width="1.0" />
<line x1="585.3" y1="444" x2="585.3" y2="614.2" stroke="#231815" stroke-width="1.0" />
<line x1="463.3" y1="612" x2="585.3" y2="612" stroke="#231815" stroke-width="1.0" />
<polygon points="463.3,612 476.7,609.6 476.7,614.4" fill="#231815"/>
<polygon points="585.3,612 571.9,614.4 571.9,609.6" fill="#231815"/>
<text transform="translate(524.9,608.1) scale(0.72,1)" font-size="20" text-anchor="middle" fill="#231815">E</text>
<line x1="498.8" y1="529.9" x2="546.6" y2="529.9" stroke="#231815" stroke-width="1.7" />
<line x1="498.8" y1="550.2" x2="546.6" y2="550.2" stroke="#231815" stroke-width="1.7" />
<line x1="463.5" y1="539.7" x2="586" y2="539.7" stroke="#231815" stroke-width="1.3" />
<line x1="486.7" y1="531.2" x2="498.8" y2="531.2" stroke="#231815" stroke-width="1.3" />
<line x1="486.7" y1="548" x2="498.8" y2="548" stroke="#231815" stroke-width="1.3" />
<line x1="546.6" y1="531.2" x2="562.2" y2="531.2" stroke="#231815" stroke-width="1.3" />
<line x1="546.6" y1="548" x2="562.2" y2="548" stroke="#231815" stroke-width="1.3" />
<path d="M469.9,524.2 L481.0,524.2 Q482.5,524.2 482.5,526 L482.5,553.8 Q482.5,555.6 481.0,555.6 L469.9,555.6 Q468.4,555.6 468.4,553.8 L468.4,526 Q468.4,524.2 469.9,524.2 Z" stroke="#231815" stroke-width="1.5" fill="#fff" />
<line x1="468.4" y1="532" x2="482.5" y2="532" stroke="#231815" stroke-width="1.3" />
<line x1="468.4" y1="547.8" x2="482.5" y2="547.8" stroke="#231815" stroke-width="1.3" />
<rect x="482.5" y="526.7" width="4.199999999999989" height="26.6" rx="0" stroke="#231815" stroke-width="1.3" fill="none"/>
<rect x="465.9" y="531.7" width="2.5" height="16.1" rx="1" stroke="#231815" stroke-width="1.6" fill="none"/>
<path d="M567.2,524.2 L578.9,524.2 Q580.4,524.2 580.4,526 L580.4,553.8 Q580.4,555.6 578.9,555.6 L567.2,555.6 Q565.7,555.6 565.7,553.8 L565.7,526 Q565.7,524.2 567.2,524.2 Z" stroke="#231815" stroke-width="1.5" fill="#fff" />
<line x1="565.7" y1="532" x2="580.4" y2="532" stroke="#231815" stroke-width="1.3" />
<line x1="565.7" y1="547.8" x2="580.4" y2="547.8" stroke="#231815" stroke-width="1.3" />
<rect x="562.2" y="526.7" width="3.5" height="26.6" rx="0" stroke="#231815" stroke-width="1.3" fill="none"/>
<rect x="580.4" y="531.7" width="2.3999999999999773" height="16.1" rx="1" stroke="#231815" stroke-width="1.6" fill="none"/>
<line x1="463.5" y1="539.7" x2="586" y2="539.7" stroke="#231815" stroke-width="1.3" />
</svg>
</body></html>
